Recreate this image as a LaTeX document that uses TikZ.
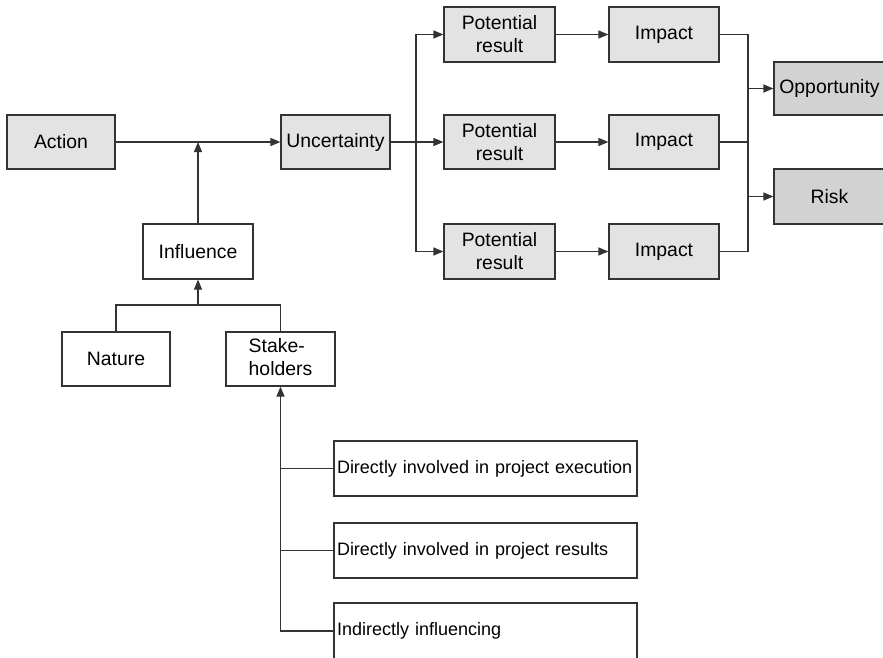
\documentclass[tikz,border=0pt]{standalone}
\usepackage{fontspec}
\setmainfont{Liberation Sans}
\usetikzlibrary{arrows.meta}
\definecolor{boxlight}{HTML}{E3E3E3}
\definecolor{boxdark}{HTML}{D2D2D2}
\definecolor{edge}{HTML}{333333}
\begin{document}
\begin{tikzpicture}[x=1pt,y=-1pt,
  every node/.style={font=\fontsize{19.4}{23}\selectfont},
  box/.style={draw=edge,line width=1.2pt,minimum height=54pt,inner sep=2pt,align=center},
  greybox/.style={box,fill=boxlight},
  darkbox/.style={box,fill=boxdark},
  whitebox/.style={box,fill=white},
  longbox/.style={draw=edge,line width=1.2pt,fill=white,minimum height=55pt,text width=297pt,inner xsep=3pt,inner ysep=5pt,align=left,font=\fontsize{18}{22}\selectfont},
  conn/.style={draw=edge,line width=1.2pt},
  arr/.style={conn,-{Triangle[length=10pt,width=8pt]}}
]
\useasboundingbox (0,0) rectangle (883,658);
\fill[white] (0,0) rectangle (883,658);

\node[greybox,minimum width=108pt] (action) at (61,142) {Action};
\node[greybox,minimum width=109pt] (unc) at (335.5,142) {Uncertainty};
\node[greybox,minimum width=111pt,minimum height=55pt] (pr1) at (499.5,34.5) {Potential\\result};
\node[greybox,minimum width=111pt] (pr2) at (499.5,142) {Potential\\result};
\node[greybox,minimum width=111pt,minimum height=55pt] (pr3) at (499.5,251.5) {Potential\\result};
\node[greybox,minimum width=110pt,minimum height=55pt] (im1) at (664,34.5) {Impact};
\node[greybox,minimum width=110pt] (im2) at (664,142) {Impact};
\node[greybox,minimum width=110pt,minimum height=55pt] (im3) at (664,251.5) {Impact};
\node[darkbox,minimum width=111pt,minimum height=53pt] (opp) at (829.5,88.5) {Opportunity};
\node[darkbox,minimum width=111pt,minimum height=55pt] (risk) at (829.5,196.5) {Risk};

\node[whitebox,minimum width=110pt,minimum height=55pt] (infl) at (198,251.5) {Influence};
\node[whitebox,minimum width=108pt] (nature) at (116,359) {Nature};
\node[whitebox,minimum width=109pt] (stake) at (280.5,359) {\begin{tabular}{@{}l@{}}Stake-\\holders\end{tabular}};

\node[longbox] (b1) at (485.5,468.5) {Directly involved in project execution};
\node[longbox] (b2) at (485.5,550.5) {Directly involved in project results};
\node[longbox,minimum height=56pt] (b3) at (485.5,631) {Indirectly influencing};

% main flow
\draw[arr] (action.east) -- (unc.west);
\coordinate (j1) at (198,142);
\draw[arr] (infl.north) -- (j1);

% branching to potential results
\coordinate (br) at (416,142);
\draw[arr] (unc.east) -- (pr2.west);
\draw[arr] (br) |- (pr1.west);
\draw[arr] (br) |- (pr3.west);

\draw[arr] (pr1.east) -- (im1.west);
\draw[arr] (pr2.east) -- (im2.west);
\draw[arr] (pr3.east) -- (im3.west);

% merging to opportunity / risk
\coordinate (mtop) at (748,34.5);
\coordinate (mbot) at (748,251.5);
\coordinate (mo) at (748,88.5);
\coordinate (mr) at (748,196.5);
\draw[conn] (im1.east) -- (mtop) -- (mbot) -- (im3.east);
\draw[conn] (im2.east) -- (748,142);
\draw[arr] (mo) -- (opp.west);
\draw[arr] (mr) -- (risk.west);

% nature / stakeholders to influence
\coordinate (j2) at (198,305);
\draw[conn] (nature.north) |- (j2) -| (stake.north);
\draw[arr] (j2) -- (infl.south);

% stakeholder groups
\draw[arr] (b3.west) -| (stake.south);
\draw[conn] (b1.west) -- (stake.south |- b1.west);
\draw[conn] (b2.west) -- (stake.south |- b2.west);
\end{tikzpicture}
\end{document}
